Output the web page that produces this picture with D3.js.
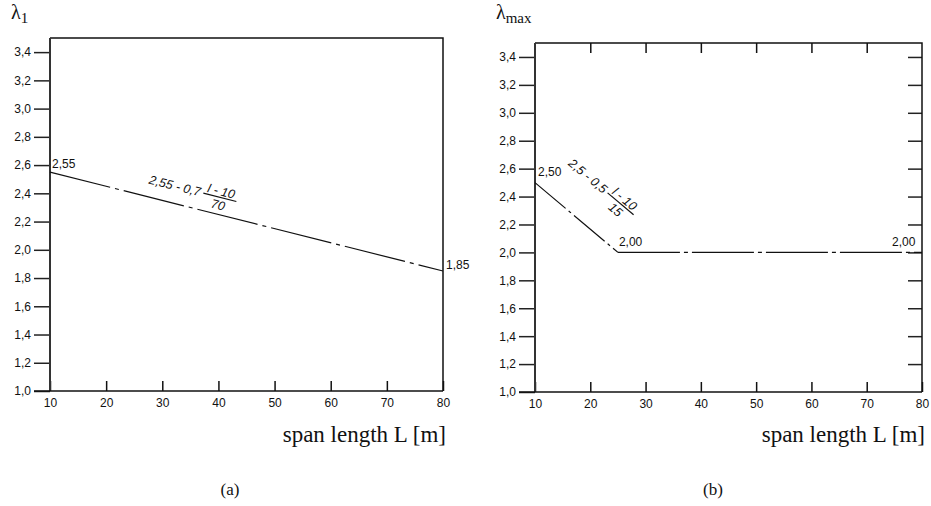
<!DOCTYPE html>
<html><head><meta charset="utf-8">
<script src="https://cdn.jsdelivr.net/npm/d3@7"></script>
<style>body{margin:0;background:#fff}svg{display:block}</style>
</head><body>
<svg id="c" width="931" height="506"></svg>
<script>
// ---- data ----
const xTicks = [10, 20, 30, 40, 50, 60, 70, 80];
const yTicks = [1.0, 1.2, 1.4, 1.6, 1.8, 2.0, 2.2, 2.4, 2.6, 2.8, 3.0, 3.2, 3.4];
const spanA = [10, 80];
const lambdaA = [2.55, 1.85];
const spanB1 = [10, 25];
const lambdaB1 = [2.50, 2.00];
const spanB2 = [25, 80];
const lambdaB2 = [2.00, 2.00];
const labelsA = ["2,55", "1,85"];
const labelsB = ["2,50", "2,00", "2,00"];

const svg = d3.select("#c");
const fmt = d => d3.format(".1f")(d).replace(".", ",");
const SANS = "Liberation Sans, Arial, sans-serif";
const SERIF = "Liberation Serif, Times New Roman, serif";

function panel(o) {
  const x = d3.scaleLinear().domain([10, 80]).range([o.left, o.right]);
  const y = d3.scaleLinear().domain([1.0, 3.5]).range([o.bottom, o.top]);
  const g = svg.append("g");
  const ya = g.append("g").attr("transform", `translate(${o.left},0)`)
    .call(d3.axisLeft(y).tickValues(yTicks).tickSize(16).tickPadding(3).tickFormat(fmt));
  ya.select(".domain").remove();
  ya.selectAll("line").attr("stroke", "#222").attr("stroke-width", 1.5);
  ya.selectAll("text").attr("font-family", SANS).attr("font-size", 12).attr("fill", "#111");
  const xa = g.append("g").attr("transform", `translate(0,${o.bottom})`)
    .call(d3.axisBottom(x).tickValues(xTicks).tickSizeInner(-10).tickSizeOuter(0).tickPadding(7));
  xa.select(".domain").remove();
  xa.selectAll("line").attr("stroke", "#111").attr("stroke-width", 1.5);
  xa.selectAll("text").attr("font-family", SANS).attr("font-size", 12).attr("fill", "#111");
  if (o.full) {
    const ta = g.append("g").attr("transform", `translate(0,${o.top})`)
      .call(d3.axisTop(x).tickValues(xTicks.slice(1, -1)).tickSizeInner(-10).tickSizeOuter(0).tickFormat(""));
    ta.select(".domain").remove();
    ta.selectAll("line").attr("stroke", "#111").attr("stroke-width", 1.5);
    const ra = g.append("g").attr("transform", `translate(${o.right},0)`)
      .call(d3.axisRight(y).tickValues(yTicks.slice(1)).tickSizeInner(-14).tickSizeOuter(0).tickFormat(""));
    ra.select(".domain").remove();
    ra.selectAll("line").attr("stroke", "#222").attr("stroke-width", 1.5);
  }
  g.append("path").attr("d", `M${o.left},${o.top}H${o.right}V${o.bottom}`).attr("fill", "none").attr("stroke", "#111").attr("stroke-width", 1.5);
  g.append("line").attr("x1", o.left).attr("x2", o.left).attr("y1", o.top).attr("y2", o.bottom).attr("stroke", "#333").attr("stroke-width", 2);
  g.append("line").attr("x1", o.left - 16).attr("x2", o.right).attr("y1", o.bottom).attr("y2", o.bottom).attr("stroke", "#111").attr("stroke-width", 1.5);
  const t = g.append("text").attr("x", o.tx).attr("y", 19).attr("font-family", SERIF).attr("font-size", 20).attr("fill", "#111");
  t.append("tspan").text("λ");
  t.append("tspan").attr("dy", 4).attr("font-size", o.subSize).text(o.sub);
  g.append("text").attr("x", o.right + 3).attr("y", 442).attr("text-anchor", "end")
    .attr("font-family", SERIF).attr("font-size", 23).attr("fill", "#111").text("span length L [m]");
  g.append("text").attr("x", o.cap).attr("y", 495).attr("text-anchor", "middle")
    .attr("font-family", SERIF).attr("font-size", 17).attr("fill", "#111").text(o.capText);
  return {g, x, y};
}

const line = (x, y) => d3.line().x(d => x(d[0])).y(d => y(d[1]));
const ann = (g, tx, ty, s) => g.append("text").attr("x", tx).attr("y", ty)
  .attr("font-family", SANS).attr("font-size", 12).attr("fill", "#111").text(s);

function formula(g, px, py, ang, main, num, den) {
  const f = g.append("g").attr("transform", `translate(${px},${py}) rotate(${ang})`)
    .attr("font-family", SANS).attr("font-size", 12.5).attr("fill", "#111");
  const m = f.append("text").attr("x", 0).attr("y", 0).attr("font-style", "italic").text(main);
  const w = m.node().getComputedTextLength();
  const fx = w + 3, fw = 34;
  f.append("line").attr("x1", fx).attr("x2", fx + fw).attr("y1", -4).attr("y2", -4).attr("stroke", "#111").attr("stroke-width", 1.2);
  f.append("text").attr("x", fx + fw / 2).attr("y", -6).attr("text-anchor", "middle").attr("font-style", "italic").text(num);
  f.append("text").attr("x", fx + fw / 2).attr("y", 8).attr("text-anchor", "middle").attr("font-style", "italic").text(den);
}

// ---- panel (a) ----
const A = panel({left: 50, right: 443, top: 38, bottom: 391, tx: 11, sub: "1", subSize: 15, cap: 230, capText: "(a)", full: false});
const dataA = spanA.map((s, i) => [s, lambdaA[i]]);
A.g.append("path").datum(dataA).attr("d", line(A.x, A.y)).attr("fill", "none").attr("stroke", "#111").attr("stroke-width", 1.2).attr("stroke-dasharray", "62,5,4,5");
ann(A.g, A.x(spanA[0]) + 2, A.y(lambdaA[0]) - 4, labelsA[0]);
ann(A.g, A.x(spanA[1]) + 3, A.y(lambdaA[1]) - 2, labelsA[1]);
{
  const ang = Math.atan2(A.y(lambdaA[1]) - A.y(lambdaA[0]), A.x(spanA[1]) - A.x(spanA[0])) * 180 / Math.PI;
  formula(A.g, A.x(27.5), A.y(2.47), ang, "2,55 - 0,7", "l - 10", "70");
}

// ---- panel (b) ----
const B = panel({left: 535, right: 922, top: 43, bottom: 392, tx: 496, sub: "max", subSize: 15, cap: 713, capText: "(b)", full: true});
const dataB1 = spanB1.map((s, i) => [s, lambdaB1[i]]);
const dataB2 = spanB2.map((s, i) => [s, lambdaB2[i]]);
B.g.append("path").datum(dataB1).attr("d", line(B.x, B.y)).attr("fill", "none").attr("stroke", "#111").attr("stroke-width", 1.2).attr("stroke-dasharray", "40,4,3,4");
B.g.append("path").datum(dataB2).attr("d", line(B.x, B.y)).attr("fill", "none").attr("stroke", "#111").attr("stroke-width", 1.2).attr("stroke-dasharray", "62,4,4,4");
ann(B.g, B.x(spanB1[0]) + 3, B.y(lambdaB1[0]) - 7, labelsB[0]);
ann(B.g, B.x(spanB1[1]) + 1, B.y(lambdaB1[1]) - 6, labelsB[1]);
ann(B.g, B.x(spanB2[1]) - 30, B.y(lambdaB2[1]) - 6, labelsB[2]);
{
  const ang = Math.atan2(B.y(lambdaB1[1]) - B.y(lambdaB1[0]), B.x(spanB1[1]) - B.x(spanB1[0])) * 180 / Math.PI;
  formula(B.g, B.x(15.9), B.y(2.63), ang, "2,5 - 0,5", "l - 10", "15");
}
</script>
</body></html>
